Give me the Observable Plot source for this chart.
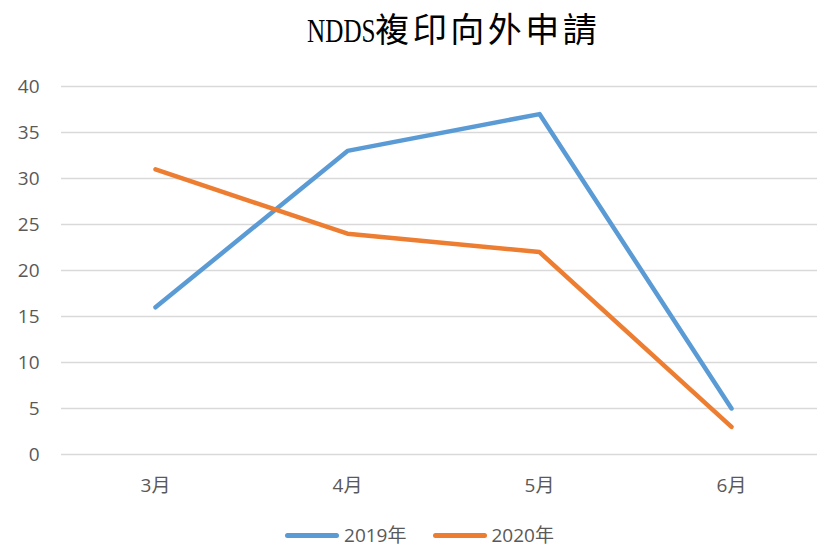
<!DOCTYPE html>
<html><head><meta charset="utf-8">
<script src="https://cdn.jsdelivr.net/npm/d3@7"></script>
<script src="https://cdn.jsdelivr.net/npm/@observablehq/plot@0.6"></script>
<style>
body{margin:0;background:#fff;width:817px;height:551px;overflow:hidden}
#title{box-sizing:border-box;height:70px;line-height:62px;padding-left:90px;text-align:center;font-family:"Liberation Serif","Noto Sans CJK TC",serif;font-size:34px;color:#000;white-space:nowrap}
#title .lat{display:inline-block;transform:scaleX(0.74);transform-origin:right center;margin-left:-24px}
#title .cjk{letter-spacing:3.5px}
#legend{box-sizing:border-box;height:41px;padding-top:11px;display:flex;justify-content:center;align-items:flex-start;font-family:"Open Sans","Noto Sans CJK TC",sans-serif;font-size:19px;line-height:28px;color:#595959;padding-left:22px}
.item{display:flex;align-items:center;margin:0 13px;height:28px}
.sw{width:54px;height:5px;border-radius:3px;margin-right:5px}
#chart svg{display:block}
</style></head><body>
<div id="title"><span class="lat">NDDS</span><span class="cjk">複印向外申請</span></div>
<div id="chart"></div>
<div id="legend"></div>
<script>
const categories = ["3月","4月","5月","6月"];
const seriesNames = ["2019年","2020年"];
const values2019 = [16,33,37,5];
const values2020 = [31,24,22,3];
const yTicks = [0,5,10,15,20,25,30,35,40];
const colors = ["#5B9BD5","#ED7D31"];

const data = [];
categories.forEach((c,i)=>{
  data.push({month:c, series:seriesNames[0], value:values2019[i]});
  data.push({month:c, series:seriesNames[1], value:values2020[i]});
});

const font = '"Open Sans","Noto Sans CJK TC",sans-serif';
const plot = Plot.plot({
  width: 817,
  height: 440,
  marginTop: 16,
  marginBottom: 56,
  marginLeft: 61,
  marginRight: 0,
  style: {fontFamily: font, fontSize: "19px", color: "#595959", background: "#fff"},
  x: {type: "band", domain: categories, range: [59, 827], padding: 0, label: null},
  y: {domain: [0, 40], label: null},
  color: {domain: seriesNames, range: colors},
  marks: [
    Plot.ruleY(yTicks, {stroke: "#d9d9d9", strokeWidth: 1.3}),
    Plot.axisY({ticks: yTicks, tickSize: 0, tickPadding: 22, label: null, fill: "#595959", fontSize: 19}),
    Plot.axisX({tickSize: 0, tickPadding: 24, label: null, fill: "#595959", fontSize: 19}),
    Plot.line(data, {x: "month", y: "value", z: "series", stroke: "series", strokeWidth: 4.5, strokeLinecap: "round", strokeLinejoin: "round"})
  ]
});
document.getElementById("chart").appendChild(plot);

const leg = document.getElementById("legend");
seriesNames.forEach((s,i)=>{
  const d = document.createElement("div"); d.className="item";
  const sw = document.createElement("div"); sw.className="sw"; sw.style.background=colors[i];
  const t = document.createElement("span"); t.textContent=s;
  d.appendChild(sw); d.appendChild(t); leg.appendChild(d);
});
</script>
</body></html>
